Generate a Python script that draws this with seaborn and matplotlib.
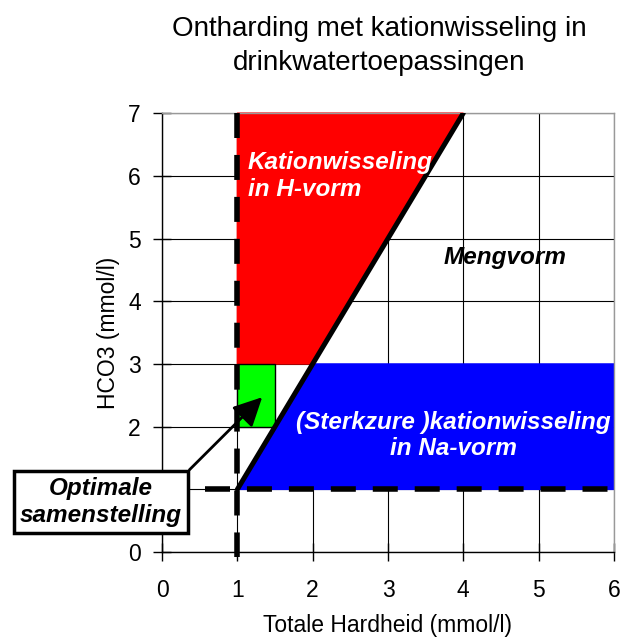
import matplotlib
matplotlib.use("Agg")
import matplotlib.pyplot as plt
import seaborn as sns
import pandas as pd

# Data
title = "Ontharding met kationwisseling in\ndrinkwatertoepassingen"
x_label = "Totale Hardheid (mmol/l)"
y_label = "HCO3 (mmol/l)"
x_ticks = [0, 1, 2, 3, 4, 5, 6]
y_ticks = [0, 1, 2, 3, 4, 5, 6, 7]

red_x = [1, 1, 4, 2]
red_y = [3, 7, 7, 3]
blue_x = [1, 2, 6, 6]
blue_y = [1, 3, 3, 1]
green_x = [1, 1, 1.5, 1.5]
green_y = [2, 3, 3, 2]
diag_x = [1, 4]
diag_y = [1, 7]
vdash_x = [1, 1]
vdash_y = [7, -0.08]
hdash_x = [0.57, 6]
hdash_y = [1, 1]

sns.set_style("white")
plt.rcParams['font.family'] = ['Liberation Sans', 'DejaVu Sans']
plt.rcParams.update({"text.color": "black", "axes.labelcolor": "black",
                     "xtick.color": "black", "ytick.color": "black"})

fig = plt.figure(figsize=(6.22, 6.39), dpi=100)
ax = fig.add_axes([0.2605, 0.136, 0.7265, 0.687])

ax.set_xlim(0, 6)
ax.set_ylim(0, 7)
ax.set_xticks(x_ticks)
ax.set_yticks(y_ticks)
ax.grid(True, color="black", linewidth=0.8)
ax.set_axisbelow(True)
for s in ["top", "right"]:
    ax.spines[s].set_color("#999999")
    ax.spines[s].set_linewidth(1.0)
for s in ["left", "bottom"]:
    ax.spines[s].set_color("black")
    ax.spines[s].set_linewidth(1.0)
ax.tick_params(axis="both", direction="inout", length=12.5, width=1, color="black",
               labelsize=16.5, bottom=True, left=True)
ax.tick_params(axis="x", pad=13)
ax.tick_params(axis="y", pad=9)

ax.fill(red_x, red_y, color="#ff0000", zorder=2, clip_on=False)
ax.fill(blue_x, blue_y, color="#0000ff", zorder=2)
ax.fill(green_x, green_y, facecolor="#00ff00", edgecolor="black", linewidth=1, zorder=2)

df = pd.DataFrame({"x": diag_x, "y": diag_y})
sns.lineplot(data=df, x="x", y="y", color="black", linewidth=3.6, ax=ax, zorder=4,
             solid_capstyle="round")

dash = (0, (4.5, 3.05))
ax.plot(vdash_x, vdash_y, color="black", linewidth=4, linestyle=dash,
        zorder=5, clip_on=False)
ax.plot(hdash_x, hdash_y, color="black", linewidth=4, linestyle=dash,
        zorder=5, clip_on=False)

ax.set_xlabel(x_label, fontsize=16.5, labelpad=9)
ax.set_ylabel(y_label, fontsize=16.5, labelpad=6)
fig.suptitle(title, fontsize=20, y=0.975, x=0.61, linespacing=1.4)

ax.text(1.14, 6.0, "Kationwisseling\nin H-vorm", color="white", fontsize=17.5,
        fontweight="bold", fontstyle="italic", ha="left", va="center",
        linespacing=1.2, zorder=6)
ax.text(4.55, 4.7, "Mengvorm", color="black", fontsize=17.5,
        fontweight="bold", fontstyle="italic", ha="center", va="center", zorder=6)
ax.text(3.87, 1.86, "(Sterkzure )kationwisseling\nin Na-vorm", color="white",
        fontsize=17.5, fontweight="bold", fontstyle="italic", ha="center",
        va="center", linespacing=1.2, zorder=6)

ax.annotate("Optimale\nsamenstelling", xy=(1.33, 2.47), xytext=(-0.81, 0.8),
            textcoords="data", fontsize=17.5, fontweight="bold", fontstyle="italic",
            ha="center", va="center", linespacing=1.2, zorder=7,
            bbox=dict(boxstyle="square,pad=0.25", facecolor="white",
                      edgecolor="black", linewidth=2.5),
            arrowprops=dict(arrowstyle="-|>,head_length=1.0,head_width=0.5",
                            color="black", linewidth=2, shrinkA=0, shrinkB=0,
                            relpos=(1.0, 1.0)),
            annotation_clip=False)

fig.savefig("out.png", dpi=100)
